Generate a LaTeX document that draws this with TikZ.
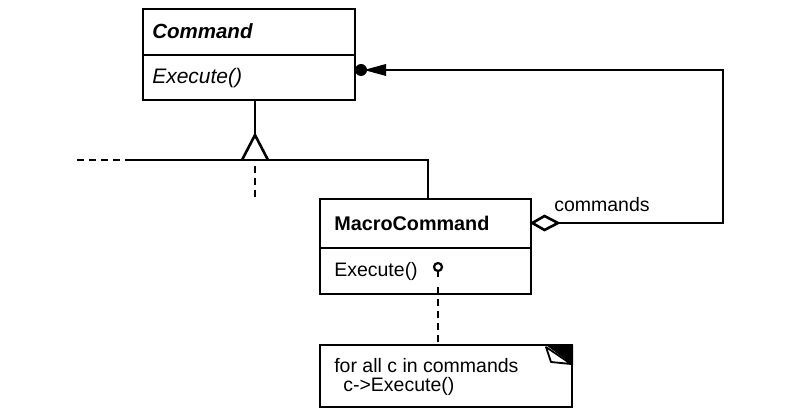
\documentclass[tikz,border=0pt]{standalone}
\usepackage{fontspec}
\setmainfont{Liberation Sans}
\begin{document}
\begin{tikzpicture}[x=1pt,y=-1pt,line width=2.6pt,
  box/.style={draw,line width=2.6pt,rectangle,inner sep=0pt},
  lbl/.style={anchor=west,inner sep=0pt,font=\fontsize{20}{23}\selectfont},
  conn/.style={line width=2.6pt},
  dashline/.style={line width=2.6pt,dash pattern=on 7pt off 5pt}]
\useasboundingbox (0,0) rectangle (793,414);
% Command class
\node[box,minimum width=212pt,minimum height=91pt] (cmd) at (249,54.5) {};
\coordinate (cmdDivL) at (143,55);
\coordinate (cmdDivR) at (355,55);
\draw[conn] (cmdDivL) -- (cmdDivR);
\node[lbl,font=\fontsize{20.5}{23}\selectfont\bfseries\itshape] (cmdname) at (151,31) {Command};
\node[lbl,font=\fontsize{21}{23}\selectfont\itshape] (cmdop) at (151,78) {Execute()};
% MacroCommand class
\node[box,minimum width=211pt,minimum height=95pt] (mac) at (425.5,246.5) {};
\coordinate (macDivL) at (320,248);
\coordinate (macDivR) at (531,248);
\draw[conn] (macDivL) -- (macDivR);
\node[lbl,font=\fontsize{19.8}{23}\selectfont\bfseries] (macname) at (333,223) {MacroCommand};
\node[lbl,font=\fontsize{19.5}{23}\selectfont] (macop) at (333,271) {Execute()};
% inheritance
\coordinate (apex) at (255,135);
\coordinate (bl) at (242,160);
\coordinate (br) at (268,160);
\coordinate (hl) at (127,160);
\coordinate (hr) at (428,160);
\coordinate (dl) at (77,160);
\coordinate (dd) at (255,200);
\coordinate (dt) at (255,166);
\draw[conn] (cmd.south -| apex) -- (apex);
\draw[conn,line join=miter] (bl) -- (apex) -- (br);
\draw[conn] (hl) -- (hr) -- (hr |- mac.north);
\draw[dashline] (dl) -- (hl);
\draw[dashline] (dt) -- (dd);
% aggregation
\coordinate (dmR) at (558,223);
\coordinate (dmT) at (544.5,216);
\coordinate (dmB) at (544.5,230);
\coordinate (c1) at (723,223);
\coordinate (c2) at (723,70);
\coordinate (tip) at (364,70);
\draw[conn,fill=white,line join=miter] (mac.east |- dmR) -- (dmT) -- (dmR) -- (dmB) -- cycle;
\draw[conn] (dmR) -- (c1) -- (c2) -- (385,70);
\fill (361,70) circle (6pt);
\fill (tip) -- (386,64) -- (386,76) -- cycle;
\node[lbl,font=\fontsize{19.5}{22}\selectfont] (aggl) at (553,205) {commands};
% note
\coordinate (circ) at (438,267);
\draw[line width=2.2pt] (circ) circle (4pt);
\draw[conn] (438,271) -- (438,277);
\node[draw,line width=2.6pt,minimum width=252pt,minimum height=62pt,inner sep=0pt] (note) at (446,376) {};
\draw[dashline] (438,287) -- (note.north -| circ);
\fill (546,345) -- (573,345) -- (573,365) -- cycle;
\draw[line width=1.8pt,fill=white,line join=round] (546,347) -- (551,362) -- (571,364) -- cycle;
\node[lbl,align=left,font=\fontsize{19.5}{19}\selectfont] (notetext) at (333,377) {for all c in commands\\\hspace*{9pt}c-{}>Execute()};
\end{tikzpicture}
\end{document}
